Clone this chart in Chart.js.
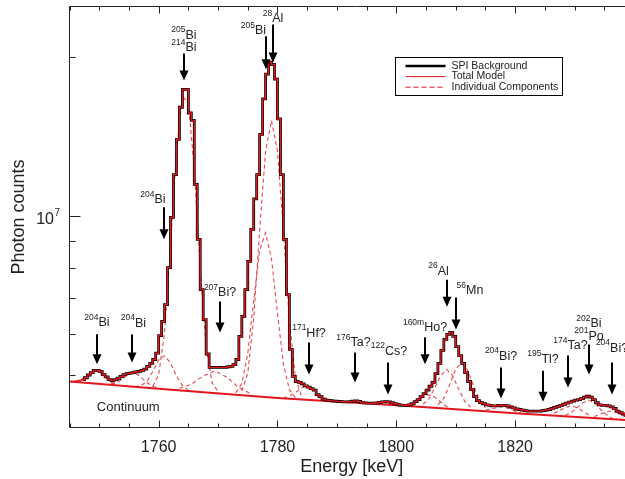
<!DOCTYPE html>
<html>
<head>
<meta charset="utf-8">
<title>SPI background 1745-1840 keV</title>
<script src="https://cdn.jsdelivr.net/npm/chart.js@4.4.1/dist/chart.umd.min.js"></script>
<style>
  html, body { margin: 0; padding: 0; background: #fff; overflow: hidden; }
  #wrap { position: relative; width: 625px; height: 479px; overflow: hidden; }
</style>
</head>
<body>
<div id="wrap"><canvas id="spectrum" width="640" height="479"></canvas></div>
<script>
// Photon counts per 0.5 keV bin (units of 1e6), bins centred on 1745.25, 1745.75, ...
// One row = 5 keV.
const FIRST_BIN = 1745.25;
const BIN_WIDTH = 0.5;
const SPI_FIRST = 4; // measured spectrum starts at 1747 keV, model covers the full window
const counts = [
  4.87, 4.87, 4.88, 4.89, 4.91, 4.95, 5.01, 5.06, 5.11, 5.11,   // 1745
  5.09, 5.02, 4.97, 4.91, 4.89, 4.91, 4.94, 4.98, 5.02, 5.04,   // 1750
  5.05, 5.06, 5.08, 5.09, 5.11, 5.14, 5.20, 5.27, 5.36, 5.51,   // 1755
  5.95, 6.33, 6.81, 8.00, 9.96, 12.0, 14.0, 16.1, 17.4, 17.4,   // 1760
  15.7, 15.2, 11.5, 9.05, 7.27, 6.38, 5.49, 5.18, 5.18, 5.18,   // 1765
  5.18, 5.18, 5.18, 5.19, 5.20, 5.24, 5.36, 5.93, 6.47, 7.27,   // 1770
  8.22, 9.45, 10.8, 12.0, 14.3, 16.7, 18.6, 19.6, 19.4, 18.2,   // 1775
  15.3, 12.0, 9.05, 7.11, 5.60, 4.98, 4.87, 4.85, 4.82, 4.78,   // 1780
  4.75, 4.72, 4.69, 4.60, 4.56, 4.51, 4.49, 4.485, 4.475, 4.47, // 1785
  4.465, 4.46, 4.455, 4.455, 4.46, 4.47, 4.475, 4.465, 4.44, 4.435, // 1790
  4.43, 4.43, 4.43, 4.435, 4.445, 4.455, 4.46, 4.455, 4.44, 4.42,   // 1795
  4.405, 4.395, 4.39, 4.39, 4.40, 4.42, 4.46, 4.50, 4.56, 4.62,     // 1800
  4.69, 4.77, 4.85, 5.04, 5.27, 5.58, 5.85, 5.98, 6.03, 5.93,   // 1805
  5.67, 5.45, 5.27, 5.06, 4.87, 4.70, 4.56, 4.48, 4.44, 4.42,   // 1810
  4.40, 4.39, 4.38, 4.38, 4.39, 4.39, 4.39, 4.38, 4.36, 4.34,   // 1815
  4.32, 4.31, 4.30, 4.29, 4.28, 4.28, 4.28, 4.28, 4.28, 4.29,   // 1820
  4.30, 4.31, 4.33, 4.35, 4.37, 4.39, 4.41, 4.43, 4.45, 4.47,   // 1825
  4.49, 4.50, 4.52, 4.55, 4.57, 4.55, 4.50, 4.44, 4.40, 4.39,   // 1830
  4.39, 4.38, 4.36, 4.33, 4.28, 4.25, 4.23, 4.20, 4.18, 4.17    // 1835
];

// continuum under all lines [keV, counts]
const continuum = [[1745, 4.87], [1760, 4.72], [1780, 4.53], [1800, 4.39], [1820, 4.24], [1840, 4.11]];

// individual line components (continuum + line) [keV, counts]
const bi204a = [[1746, 4.87], [1747, 4.91], [1748, 5.00], [1749, 5.09], [1750, 5.08], [1751, 4.97], [1752, 4.86], [1753, 4.80]];
const bi204b = [[1752, 4.82], [1753, 4.85], [1754, 4.93], [1755, 5.03], [1756, 5.06], [1757, 4.97], [1758, 4.85], [1759, 4.77], [1760, 4.73]];
const bi204c = [[1756, 4.76], [1757, 4.78], [1758, 4.87], [1759, 5.08], [1760, 5.35], [1761, 5.45], [1762, 5.28], [1763, 4.99], [1764, 4.78], [1765, 4.69]];
const bi205a = [[1759, 4.77], [1760, 5.01], [1761, 6.03], [1762, 8.79], [1763, 13.3], [1764, 16.9], [1765, 16.4], [1766, 12.3], [1767, 8.02], [1768, 5.64], [1769, 4.84], [1770, 4.66]];
const bi207 = [[1763.5, 4.73], [1765.5, 4.81], [1767.5, 4.99], [1769.5, 5.10], [1771.5, 4.96], [1773.5, 4.74], [1775.5, 4.62]];
const bi205b = [[1773, 4.64], [1774, 4.83], [1775, 5.50], [1776, 6.93], [1777, 8.63], [1778, 9.31], [1779, 8.31], [1780, 6.55], [1781, 5.25], [1782, 4.70], [1783, 4.54]];
const al28 = [[1774, 4.67], [1775, 5.05], [1776, 6.41], [1777, 9.44], [1778, 13.3], [1779, 15.2], [1780, 13.3], [1781, 9.40], [1782, 6.35], [1783, 4.97], [1784, 4.58]];
const hf171 = [[1781, 4.53], [1782, 4.57], [1783, 4.64], [1784, 4.73], [1785, 4.78], [1786, 4.72], [1787, 4.61], [1788, 4.52], [1789, 4.48]];
const ho160 = [[1802, 4.40], [1803, 4.44], [1804, 4.52], [1805, 4.59], [1806, 4.59], [1807, 4.50], [1808, 4.40], [1809, 4.34]];
const al26 = [[1804.5, 4.41], [1805.5, 4.52], [1806.5, 4.74], [1807.5, 5.00], [1808.5, 5.13], [1809.5, 4.99], [1810.5, 4.71], [1811.5, 4.47], [1812.5, 4.35]];
const mn56 = [[1807, 4.40], [1808, 4.53], [1809, 4.81], [1810, 5.14], [1811, 5.28], [1812, 5.12], [1813, 4.78], [1814, 4.49], [1815, 4.34]];
const bi204d = [[1815, 4.30], [1816, 4.32], [1817, 4.35], [1818, 4.36], [1819, 4.33], [1820, 4.28], [1821, 4.24]];
const ta174 = [[1826.5, 4.24], [1827.5, 4.29], [1828.5, 4.35], [1829.5, 4.38], [1830.5, 4.34], [1831.5, 4.27], [1832.5, 4.20]];
const bi202 = [[1828.4, 4.20], [1829.4, 4.25], [1830.4, 4.34], [1831.4, 4.44], [1832.4, 4.49], [1833.4, 4.43], [1834.4, 4.31], [1835.4, 4.21], [1836.4, 4.15]];
const bi204e = [[1833.3, 4.18], [1834.3, 4.22], [1835.3, 4.27], [1836.3, 4.28], [1837.3, 4.25], [1838.3, 4.19], [1839.3, 4.14]];
const components = [bi204a, bi204b, bi204c, bi205a, bi207, bi205b, al28, hf171, ho160, al26, mn56, bi204d, ta174, bi202, bi204e];

// line identifications: arrow tip at [keV, counts], arrow length, label lift/shift in px
const markers = [
  { keV: 1749.6, tip: 5.25, len: 30, lift: 8, dx: 0, text: [['204', 'Bi']] },
  { keV: 1755.5, tip: 5.29, len: 28, lift: 8, dx: 1.5, text: [['204', 'Bi']] },
  { keV: 1760.9, tip: 9.05, len: 32, lift: 4, dx: -11, text: [['204', 'Bi']] },
  { keV: 1764.25, tip: 18.1, len: 27, lift: 2, dx: 0, text: [['205', 'Bi'], ['214', 'Bi']] },
  { keV: 1770.25, tip: 6.03, len: 31, lift: 5, dx: 0, text: [['207', 'Bi?']] },
  { keV: 1778.0, tip: 19.0, len: 33, lift: 2, dx: -12.5, text: [['205', 'Bi']] },
  { keV: 1779.3, tip: 19.57, len: 38, lift: 2, dx: 0, text: [['28', 'Al']] },
  { keV: 1785.3, tip: 5.02, len: 32, lift: 6, dx: 0, text: [['171', 'Hf?']] },
  { keV: 1793.1, tip: 4.85, len: 30, lift: 6, dx: -1.5, text: [['176', 'Ta?']] },
  { keV: 1798.55, tip: 4.60, len: 32, lift: 8, dx: 1, text: [['122', 'Cs?']] },
  { keV: 1804.9, tip: 5.25, len: 27, lift: 6, dx: 0, text: [['160m', 'Ho?']] },
  { keV: 1808.5, tip: 6.75, len: 27, lift: 5, dx: -8.5, text: [['26', 'Al']] },
  { keV: 1810.1, tip: 6.11, len: 32, lift: 3, dx: 14, text: [['56', 'Mn']] },
  { keV: 1817.65, tip: 4.52, len: 31, lift: 8, dx: 0, text: [['204', 'Bi?']] },
  { keV: 1824.65, tip: 4.46, len: 31, lift: 8, dx: 0, text: [['195', 'Tl?']] },
  { keV: 1828.9, tip: 4.745, len: 32, lift: 6, dx: 2.5, text: [['174', 'Ta?']] },
  { keV: 1832.5, tip: 5.02, len: 30, lift: 5, dx: 0, text: [['202', 'Bi'], ['201', 'Po']] },
  { keV: 1836.25, tip: 4.60, len: 32, lift: 11, dx: 0, text: [['204', 'Bi?']] }
];

const X_TICKS = [1760, 1780, 1800, 1820];
const Y_MINOR = [5, 6, 7, 8, 9, 20];

const FONT = '"Liberation Sans", Arial, Helvetica, sans-serif';
const RED = '#e3161e';
const INK = '#222';

const binCenter = i => FIRST_BIN + i * BIN_WIDTH;
const toPoints = pairs => pairs.map(([x, y]) => ({ x, y }));

// mass number as superscript in front of the element
function drawIsotope(ctx, sup, main, cx, baseline) {
  ctx.font = '8.5px ' + FONT;
  const ws = ctx.measureText(sup).width;
  ctx.font = '12.5px ' + FONT;
  const wm = ctx.measureText(main).width;
  const x0 = cx - (ws + wm) / 2;
  ctx.textAlign = 'left';
  ctx.font = '8.5px ' + FONT;
  ctx.fillText(sup, x0, baseline - 6.5);
  ctx.font = '12.5px ' + FONT;
  ctx.fillText(main, x0 + ws, baseline);
}

const decorations = {
  id: 'decorations',
  afterDraw(chart) {
    const { ctx, chartArea: a, scales: { x, y } } = chart;
    ctx.save();

    // frame (right side runs off the page)
    ctx.strokeStyle = INK;
    ctx.lineWidth = 1;
    ctx.beginPath();
    ctx.moveTo(a.right + 20, a.top);
    ctx.lineTo(a.left, a.top);
    ctx.lineTo(a.left, a.bottom);
    ctx.lineTo(a.right + 20, a.bottom);
    ctx.stroke();

    // inward ticks, top and bottom
    ctx.beginPath();
    for (let v = 1745; v <= 1840; v += 5) {
      const px = Math.round(x.getPixelForValue(v)) + 0.5;
      const len = v % 20 === 0 ? 7 : 4;
      ctx.moveTo(px, a.bottom); ctx.lineTo(px, a.bottom - len);
      ctx.moveTo(px, a.top); ctx.lineTo(px, a.top + len);
    }
    for (const m of Y_MINOR) {
      const py = Math.round(y.getPixelForValue(m)) + 0.5;
      ctx.moveTo(a.left, py); ctx.lineTo(a.left + 6, py);
    }
    const p7 = Math.round(y.getPixelForValue(10)) + 0.5;
    ctx.moveTo(a.left, p7); ctx.lineTo(a.left + 11, p7);
    ctx.stroke();

    // tick labels
    ctx.fillStyle = INK;
    ctx.textBaseline = 'alphabetic';
    ctx.textAlign = 'center';
    ctx.font = '16px ' + FONT;
    for (const v of X_TICKS) ctx.fillText(String(v), x.getPixelForValue(v), 452);
    ctx.textAlign = 'right';
    ctx.font = '16px ' + FONT;
    ctx.fillText('10', 54, p7 + 7.5);
    ctx.textAlign = 'left';
    ctx.font = '10px ' + FONT;
    ctx.fillText('7', 54.5, p7 - 1);

    // axis titles
    ctx.textAlign = 'center';
    ctx.font = '18px ' + FONT;
    ctx.fillText('Energy [keV]', (a.left + a.right) / 2, 472);
    ctx.save();
    ctx.translate(24, (a.top + a.bottom) / 2);
    ctx.rotate(-Math.PI / 2);
    ctx.fillText('Photon counts', 0, 0);
    ctx.restore();

    // continuum label
    ctx.textAlign = 'left';
    ctx.font = '13px ' + FONT;
    ctx.fillText('Continuum', x.getPixelForValue(1749.6), y.getPixelForValue(4.28));

    // line identifications
    for (const m of markers) {
      const px = Math.round(x.getPixelForValue(m.keV));
      const tipY = y.getPixelForValue(m.tip);
      const topY = tipY - m.len;
      ctx.strokeStyle = '#000';
      ctx.fillStyle = '#000';
      ctx.lineWidth = 2;
      ctx.beginPath();
      ctx.moveTo(px, topY);
      ctx.lineTo(px, tipY - 8);
      ctx.stroke();
      ctx.beginPath();
      ctx.moveTo(px - 4.5, tipY - 10);
      ctx.lineTo(px + 4.5, tipY - 10);
      ctx.lineTo(px, tipY);
      ctx.closePath();
      ctx.fill();

      ctx.fillStyle = INK;
      const base = topY - m.lift;
      const n = m.text.length;
      m.text.forEach(([sup, main], j) => {
        drawIsotope(ctx, sup, main, px + m.dx, base - (n - 1 - j) * 12.5);
      });
    }

    // legend
    const lx = 395.5, ly = 57.5, lw = 167, lh = 38;
    ctx.fillStyle = '#fff';
    ctx.fillRect(lx, ly, lw, lh);
    ctx.strokeStyle = '#000';
    ctx.lineWidth = 1;
    ctx.strokeRect(lx, ly, lw, lh);
    const rows = [
      { label: 'SPI Background', color: '#000', width: 2.5, dash: [] },
      { label: 'Total Model', color: RED, width: 1, dash: [] },
      { label: 'Individual Components', color: RED, width: 1, dash: [5, 3] }
    ];
    rows.forEach((r, i) => {
      const ry = ly + 8.5 + i * 10.6;
      ctx.strokeStyle = r.color;
      ctx.lineWidth = r.width;
      ctx.setLineDash(r.dash);
      ctx.beginPath();
      ctx.moveTo(lx + 10, ry);
      ctx.lineTo(lx + 50, ry);
      ctx.stroke();
      ctx.setLineDash([]);
      ctx.fillStyle = INK;
      ctx.font = '10.5px ' + FONT;
      ctx.textAlign = 'left';
      ctx.textBaseline = 'middle';
      ctx.fillText(r.label, lx + 56, ry);
    });

    ctx.restore();
  }
};

const componentSets = components.map(c => ({
  label: 'component',
  data: toPoints(c),
  borderColor: 'rgba(228, 50, 60, 0.9)',
  borderWidth: 1.1,
  borderDash: [4, 3],
  pointRadius: 0,
  order: 3
}));

new Chart(document.getElementById('spectrum'), {
  type: 'line',
  data: {
    datasets: [
      {
        label: 'SPI Background',
        data: counts.slice(SPI_FIRST).map((v, i) => ({ x: binCenter(i + SPI_FIRST), y: v })),
        borderColor: '#000',
        borderWidth: 2.8,
        stepped: 'middle',
        pointRadius: 0,
        order: 1
      },
      {
        label: 'Total Model',
        data: counts.map((v, i) => ({ x: binCenter(i), y: v })),
        borderColor: RED,
        borderWidth: 1.4,
        stepped: 'middle',
        pointRadius: 0,
        order: 0
      },
      {
        label: 'Continuum',
        data: toPoints(continuum),
        borderColor: RED,
        borderWidth: 2,
        pointRadius: 0,
        order: 2
      },
      ...componentSets
    ]
  },
  options: {
    responsive: false,
    animation: false,
    devicePixelRatio: 1,
    layout: { padding: { left: 69.5, right: 6, top: 6.5, bottom: 51.5 } },
    plugins: { legend: { display: false }, tooltip: { enabled: false } },
    elements: { line: { tension: 0 } },
    scales: {
      x: { type: 'linear', min: 1745, max: 1840, display: false },
      y: { type: 'logarithmic', min: 3.985, max: 24.98, display: false }
    }
  },
  plugins: [decorations]
});
</script>
</body>
</html>
